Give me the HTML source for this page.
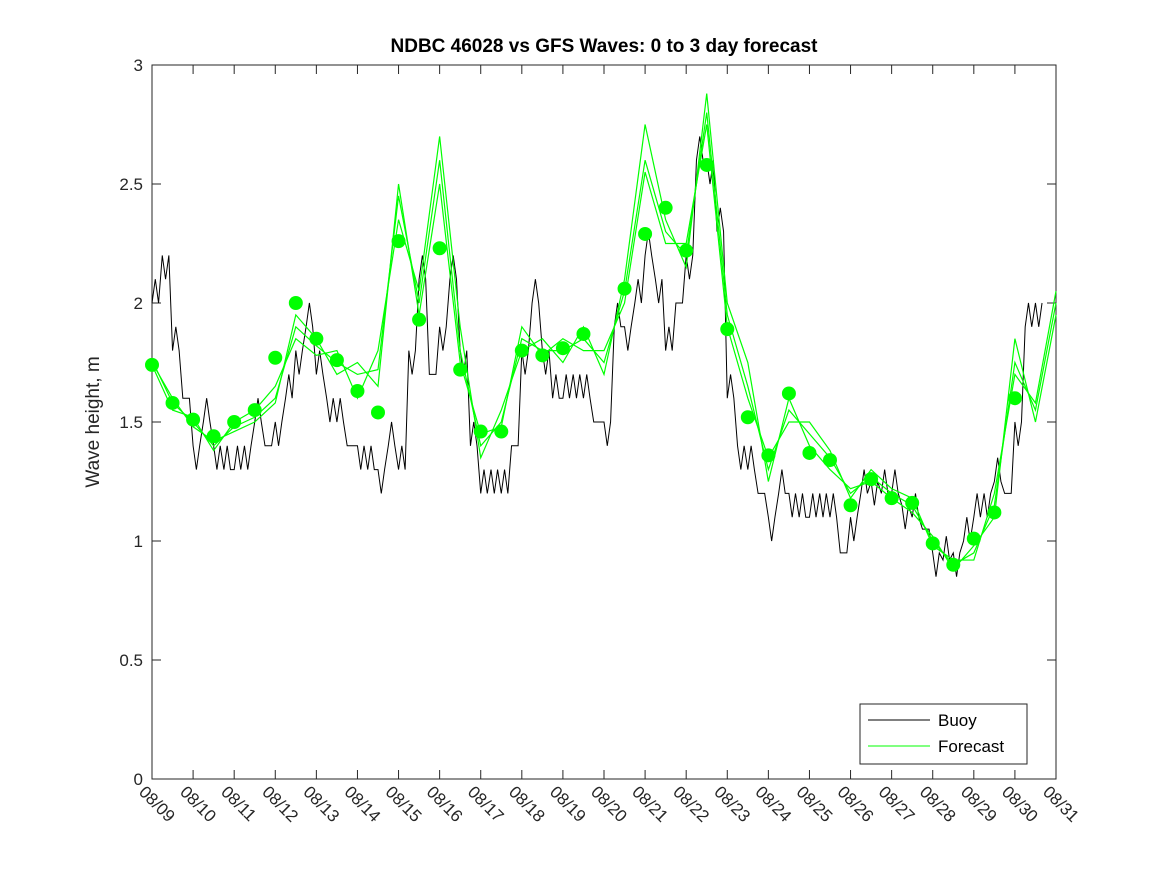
<!DOCTYPE html>
<html><head><meta charset="utf-8"><style>
body{margin:0;background:#fff;}
svg{display:block;font-family:"Liberation Sans","DejaVu Sans",sans-serif;}
</style></head><body>
<svg id="chart" width="1167" height="875" viewBox="0 0 1167 875">
<rect width="1167" height="875" fill="#fff"/>
<g id="plot"></g>
</svg>
<script>
const xTickLabels=["08/09","08/10","08/11","08/12","08/13","08/14","08/15","08/16","08/17","08/18","08/19","08/20","08/21","08/22","08/23","08/24","08/25","08/26","08/27","08/28","08/29","08/30","08/31"];
const yTicks=[0,0.5,1,1.5,2,2.5,3];
const yTickLabels=["0","0.5","1","1.5","2","2.5","3"];
// buoy, quarter-day steps starting 08/09
const buoy=[2.0,2.2,1.8,1.6, 1.4,1.5,1.4,1.3, 1.3,1.4,1.5,1.4, 1.5,1.6,1.8,1.9, 1.7,1.6,1.5,1.4, 1.4,1.3,1.3,1.4, 1.3,1.8,2.1,1.7, 1.9,2.1,1.8,1.4, 1.2,1.3,1.2,1.4, 1.8,2.0,1.8,1.6, 1.6,1.7,1.6,1.5, 1.5,1.9,1.9,2.0, 2.2,2.1,1.8,2.0, 2.2,2.6,2.6,2.3, 1.6,1.4,1.3,1.2, 1.1,1.2,1.2,1.1, 1.1,1.2,1.1,0.95, 1.1,1.2,1.25,1.2, 1.2,1.15,1.1,1.05, 0.95,0.92,0.95,1.0, 1.1,1.2,1.25,1.2, 1.5,1.9,2.0];
const buoyNoise=[0.1,-0.1,0.1,0,-0.1,0.1,-0.1,0.1];
// forecast, half-day steps starting 08/09
const fc1=[1.76,1.58,1.50,1.40,1.48,1.52,1.60,1.90,1.82,1.75,1.70,1.72,2.45,2.00,2.60,1.80,1.40,1.50,1.85,1.80,1.80,1.85,1.75,2.05,2.60,2.30,2.20,2.80,1.95,1.65,1.30,1.55,1.45,1.35,1.20,1.27,1.20,1.15,1.00,0.90,0.95,1.15,1.75,1.55,2.00];
const fc2=[1.74,1.55,1.52,1.38,1.50,1.55,1.65,1.85,1.78,1.80,1.60,1.80,2.35,2.05,2.70,1.90,1.35,1.55,1.80,1.85,1.75,1.90,1.70,2.10,2.75,2.35,2.15,2.88,2.00,1.75,1.25,1.60,1.40,1.30,1.22,1.25,1.18,1.12,1.02,0.88,0.98,1.10,1.85,1.50,1.95];
const fc3=[1.75,1.60,1.48,1.42,1.46,1.50,1.58,1.95,1.85,1.70,1.75,1.65,2.50,1.95,2.50,1.75,1.45,1.48,1.90,1.78,1.85,1.80,1.80,2.00,2.55,2.25,2.25,2.75,1.90,1.60,1.35,1.50,1.50,1.38,1.18,1.30,1.22,1.18,0.98,0.92,0.92,1.20,1.70,1.58,2.05];
const dots=[1.74,1.58,1.51,1.44,1.50,1.55,1.77,2.00,1.85,1.76,1.63,1.54,2.26,1.93,2.23,1.72,1.46,1.46,1.80,1.78,1.81,1.87,null,2.06,2.29,2.40,2.22,2.58,1.89,1.52,1.36,1.62,1.37,1.34,1.15,1.26,1.18,1.16,0.99,0.90,1.01,1.12,1.60];

const X0=152,X1=1056,Y0=779,Y1=65,NS="http://www.w3.org/2000/svg";
const xs=d=>X0+(X1-X0)*d/22;
const ys=v=>Y0-(Y0-Y1)*v/3;
const g=document.getElementById('plot');
function mk(t,a){const e=document.createElementNS(NS,t);for(const k in a)e.setAttribute(k,a[k]);g.appendChild(e);return e;}
mk('rect',{x:X0,y:Y1,width:X1-X0,height:Y0-Y1,fill:'#fff',stroke:'#262626','stroke-width':1});
// ticks
xTickLabels.forEach((l,i)=>{
 const x=xs(i);
 mk('line',{x1:x,y1:Y0,x2:x,y2:Y0-9,stroke:'#262626'});
 mk('line',{x1:x,y1:Y1,x2:x,y2:Y1+9,stroke:'#262626'});
 const t=mk('text',{x:0,y:0,transform:`translate(${x-14},${Y0+14}) rotate(45)`,'font-size':17,fill:'#262626'});
 t.textContent=l;
 
 
});
yTicks.forEach((v,i)=>{
 const y=ys(v);
 mk('line',{x1:X0,y1:y,x2:X0+9,y2:y,stroke:'#262626'});
 mk('line',{x1:X1,y1:y,x2:X1-9,y2:y,stroke:'#262626'});
 const t=mk('text',{x:X0-9,y:y+6,'text-anchor':'end','font-size':17,fill:'#262626'});
 t.textContent=yTickLabels[i];
 
 
});
// buoy stepped line
let pts=[];
buoy.forEach((v,i)=>{
 const n=buoyNoise[i%buoyNoise.length];
 pts.push(xs(i/4)+','+ys(v));
 pts.push(xs(i/4+0.08)+','+ys(v+n));
 pts.push(xs(i/4+0.16)+','+ys(v));
});
const bl=mk('polyline',{points:pts.join(' '),fill:'none',stroke:'#000','stroke-width':1});


// forecasts
[fc1,fc2,fc3].forEach((arr,k)=>{
 const p=mk('polyline',{points:arr.map((v,i)=>xs(i/2)+','+ys(v)).join(' '),fill:'none',stroke:'#00ff00','stroke-width':1.2});
 
 
});
dots.forEach((v,i)=>{
 if(v===null)return;
 const c=mk('circle',{cx:xs(i/2),cy:ys(v),r:7,fill:'#00ff00'});
 
 
});
// title & labels
const tt=mk('text',{x:604,y:52,'text-anchor':'middle','font-size':19,'font-weight':'bold',fill:'#000'});
tt.textContent='NDBC 46028 vs GFS Waves: 0 to 3 day forecast';


const yl=mk('text',{x:0,y:0,transform:'translate(99,422) rotate(-90)','text-anchor':'middle','font-size':19,fill:'#262626'});
yl.textContent='Wave height, m';


// legend
const lg=mk('rect',{x:860,y:704,width:167,height:60,fill:'#fff',stroke:'#262626'});


mk('line',{x1:868,y1:720,x2:930,y2:720,stroke:'#000'});
mk('line',{x1:868,y1:746,x2:930,y2:746,stroke:'#00ff00'});
const l1=mk('text',{x:938,y:726,'font-size':17,fill:'#000'});l1.textContent='Buoy';


const l2=mk('text',{x:938,y:752,'font-size':17,fill:'#000'});l2.textContent='Forecast';


</script>
</body></html>
